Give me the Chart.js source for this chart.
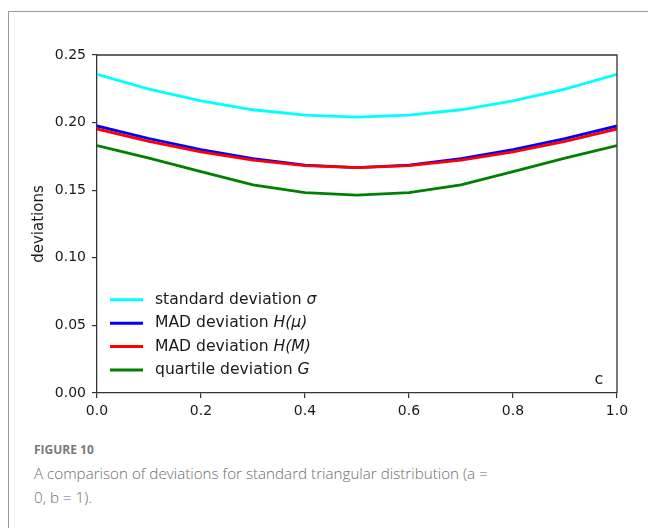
<!DOCTYPE html>
<html>
<head>
<meta charset="utf-8">
<script src="https://cdn.jsdelivr.net/npm/chart.js@4.4.1/dist/chart.umd.min.js"></script>
<style>
    html, body { margin: 0; padding: 0; background: #fff; }
    body { width: 648px; height: 528px; position: relative; overflow: hidden; }
    .frame {
        position: absolute; left: 8px; top: 11px; width: 700px; height: 600px;
        border: 1.5px solid #9a9a9a;
    }
    #chartBox { position: absolute; left: 0; top: 0; width: 648px; height: 440px; }
    .fig-label {
        position: absolute; left: 34px; top: 441px;
        font-family: "Open Sans", sans-serif; font-size: 12px; font-weight: 700;
        color: #7a7a7a;
    }
    .fig-caption {
        position: absolute; left: 34px; top: 461px; width: 462px;
        font-family: "Open Sans", sans-serif; font-size: 15.2px; font-weight: 300;
        color: #6e6e6e; line-height: 24px;
    }
</style>
</head>
<body>
<div class="frame"></div>
<div id="chartBox"><canvas id="devChart" width="648" height="440"></canvas></div>
<div class="fig-label">FIGURE 10</div>
<div class="fig-caption">A comparison of deviations for standard triangular distribution (a = 0, b = 1).</div>

<script>
// x = mode c of the triangular distribution
const cValues = [0.0, 0.1, 0.2, 0.3, 0.4, 0.5, 0.6, 0.7, 0.8, 0.9, 1.0];

// values
const sigmaValues = [0.2357, 0.2248, 0.2160, 0.2095, 0.2055, 0.2041, 0.2055, 0.2095, 0.2160, 0.2248, 0.2357];
const madMeanValues = [0.1975, 0.1882, 0.1800, 0.1733, 0.1686, 0.1667, 0.1686, 0.1733, 0.1800, 0.1882, 0.1975];
const madMedianValues = [0.1953, 0.1861, 0.1784, 0.1723, 0.1682, 0.1667, 0.1682, 0.1723, 0.1784, 0.1861, 0.1953];
const quartileValues = [0.1830, 0.1737, 0.1637, 0.1539, 0.1482, 0.1464, 0.1482, 0.1539, 0.1637, 0.1737, 0.1830];

const seriesNames = ['standard deviation ', 'MAD deviation ', 'MAD deviation ', 'quartile deviation '];
const seriesSymbols = ['σ', 'H(μ)', 'H(M)', 'G'];
const seriesColors = ['#00ffff', '#0000ff', '#ff0000', '#008000'];

const xTicks = [0.0, 0.2, 0.4, 0.6, 0.8, 1.0];
const yTicks = [0.00, 0.05, 0.10, 0.15, 0.20, 0.25];

const TICK_FONT = { family: '"DejaVu Sans"', size: 14 };
const LEGEND_SIZE = 15.6;

function toPoints(values) {
    return values.map((v, i) => ({ x: cValues[i], y: v }));
}

// legend with italic math symbols, drawn inside the plot (lower left)
const mathLegend = {
    id: 'mathLegend',
    afterDraw(chart) {
        const { ctx, chartArea } = chart;
        const x0 = chartArea.left + 13;
        const rowGap = 23.4;
        const firstRow = chartArea.bottom - 23 - rowGap * 3;
        ctx.save();
        ctx.textBaseline = 'middle';
        seriesNames.forEach((name, i) => {
            const y = firstRow + i * rowGap;
            ctx.strokeStyle = seriesColors[i];
            ctx.lineWidth = 3;
            ctx.beginPath();
            ctx.moveTo(x0, y);
            ctx.lineTo(x0 + 33, y);
            ctx.stroke();
            ctx.fillStyle = '#1a1a1a';
            ctx.font = LEGEND_SIZE + 'px "DejaVu Sans"';
            ctx.fillText(name, x0 + 45, y);
            const w = ctx.measureText(name).width;
            ctx.font = 'italic ' + LEGEND_SIZE + 'px "DejaVu Sans"';
            ctx.fillText(seriesSymbols[i], x0 + 45 + w, y);
        });
        // panel letter
        ctx.font = '16px "DejaVu Sans"';
        ctx.fillStyle = '#1a1a1a';
        ctx.textAlign = 'center';
        ctx.fillText('c', chartArea.right - 18, chartArea.bottom - 13);
        ctx.restore();
    }
};

function buildDataset(i, values, order) {
    return {
        label: seriesNames[i] + seriesSymbols[i],
        data: toPoints(values),
        borderColor: seriesColors[i],
        backgroundColor: seriesColors[i],
        borderWidth: 2.8,
        pointRadius: 0,
        tension: 0,
        fill: false,
        order: order
    };
}

document.addEventListener('DOMContentLoaded', function() {
    const ctx = document.getElementById('devChart');

    new Chart(ctx, {
        type: 'line',
        data: {
            datasets: [
                buildDataset(0, sigmaValues, 4),
                buildDataset(1, madMeanValues, 3),
                buildDataset(2, madMedianValues, 2),
                buildDataset(3, quartileValues, 1)
            ]
        },
        options: {
            responsive: false,
            animation: false,
            layout: { padding: { left: 27, top: 55, right: 31, bottom: 0 } },
            plugins: {
                legend: { display: false },
                tooltip: { enabled: false }
            },
            scales: {
                x: {
                    type: 'linear',
                    min: 0,
                    max: 1,
                    afterFit: scale => { scale.height = 47; },
                    afterBuildTicks: scale => { scale.ticks = xTicks.map(v => ({ value: v })); },
                    ticks: {
                        font: TICK_FONT,
                        color: '#1a1a1a',
                        padding: 5,
                        maxRotation: 0,
                        callback: v => Number(v).toFixed(1)
                    },
                    grid: { drawOnChartArea: false, drawTicks: true, tickLength: 5, color: '#333', lineWidth: 1.2 },
                    border: { display: true, color: '#333', width: 1.3 }
                },
                y: {
                    type: 'linear',
                    min: 0,
                    max: 0.25,
                    afterFit: scale => { scale.width = 70; },
                    afterBuildTicks: scale => { scale.ticks = yTicks.map(v => ({ value: v })); },
                    title: {
                        display: true,
                        text: 'deviations',
                        font: { family: '"DejaVu Sans"', size: 15 },
                        color: '#1a1a1a',
                        padding: { top: 3, bottom: 0 }
                    },
                    ticks: {
                        font: TICK_FONT,
                        color: '#1a1a1a',
                        padding: 6,
                        callback: v => Number(v).toFixed(2)
                    },
                    grid: { drawOnChartArea: false, drawTicks: true, tickLength: 5, color: '#333', lineWidth: 1.2 },
                    border: { display: true, color: '#333', width: 1.3 }
                }
            }
        },
        plugins: [mathLegend, {
            id: 'boxFrame',
            afterDraw(chart) {
                // top and right spines
                const { ctx, chartArea } = chart;
                ctx.save();
                ctx.strokeStyle = '#333';
                ctx.lineWidth = 1.3;
                ctx.beginPath();
                ctx.moveTo(chartArea.left, chartArea.top);
                ctx.lineTo(chartArea.right, chartArea.top);
                ctx.lineTo(chartArea.right, chartArea.bottom);
                ctx.stroke();
                ctx.restore();
            }
        }]
    });
});
</script>
</body>
</html>
